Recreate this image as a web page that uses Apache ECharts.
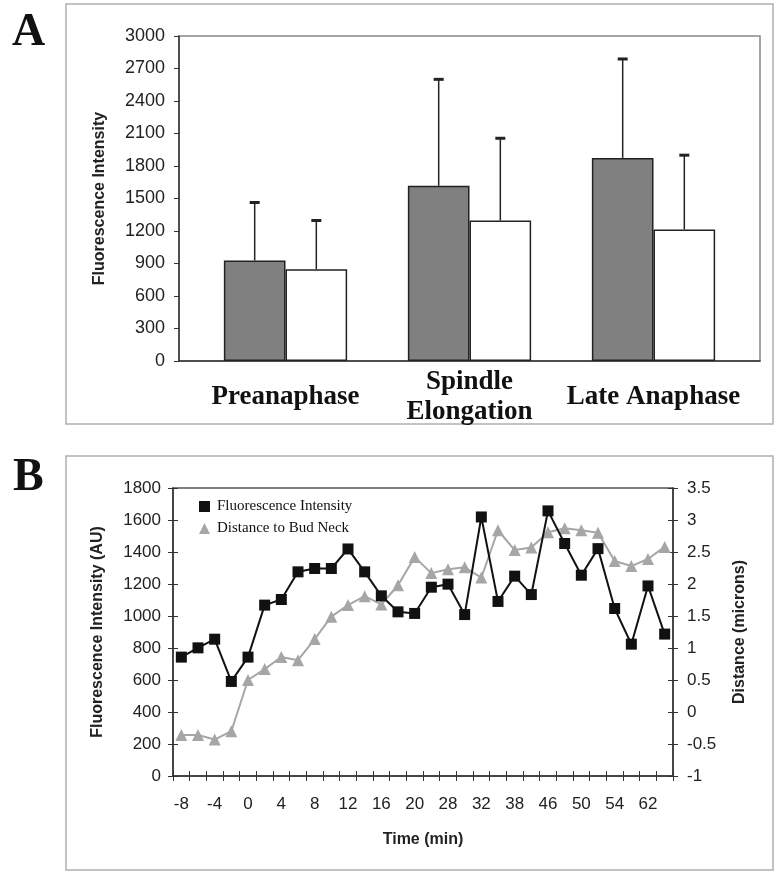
<!DOCTYPE html>
<html>
<head>
<meta charset="utf-8">
<script src="https://cdn.jsdelivr.net/npm/echarts@6/dist/echarts.min.js"></script>
<style>
html,body{margin:0;padding:0;background:#fff;}
#chart{width:776px;height:874px;}
</style>
</head>
<body>
<div id="chart"></div>
<script>
// ---------- Panel A data ----------
const aCategories = ['Preanaphase', 'Spindle\nElongation', 'Late Anaphase'];
const aGreyMean = [928, 1617, 1875];
const aGreySD = [535, 983, 913];
const aWhiteMean = [848, 1297, 1214];
const aWhiteSD = [449, 759, 686];
const aYTicks = { min: 0, max: 3000, interval: 300 };

// ---------- Panel B data ----------
const bTime = ['-8','-6','-4','-2','0','2','4','6','8','10','12','14','16','18','20','24','28','30','32','35','38','42','46','48','50','52','54','58','62','66'];
const bFluor = [743, 801, 855, 591, 743, 1068, 1103, 1276, 1297, 1297, 1419, 1276, 1126, 1026, 1016, 1180, 1199, 1009, 1619, 1091, 1249, 1134, 1657, 1453, 1255, 1421, 1047, 824, 1188, 887];
const bDist = [-0.36, -0.36, -0.43, -0.3, 0.5, 0.67, 0.86, 0.81, 1.14, 1.49, 1.67, 1.81, 1.68, 1.98, 2.42, 2.17, 2.23, 2.26, 2.1, 2.84, 2.53, 2.57, 2.81, 2.87, 2.84, 2.8, 2.36, 2.28, 2.39, 2.58];
const bLeftTicks = { min: 0, max: 1800, interval: 200 };
const bRightTicks = { min: -1, max: 3.5, interval: 0.5 };

const SANS = 'Liberation Sans, Arial, sans-serif';
const SERIF = 'Liberation Serif, Times New Roman, serif';
const TXT = '#222';
const plain = v => String(v);

const chart = echarts.init(document.getElementById('chart'), null, { renderer: 'canvas' });

function errRender(offsetFrac) {
  return function (params, api) {
    const x = api.value(0), m = api.value(1), sd = api.value(2);
    const base = api.coord([x, m]);
    const top = api.coord([x, m + sd]);
    const band = api.size([1, 0])[0];
    const cx = base[0] + offsetFrac * band;
    return {
      type: 'group',
      children: [
        { type: 'line', shape: { x1: cx, y1: base[1], x2: cx, y2: top[1] }, style: { stroke: '#222', lineWidth: 1.5 } },
        { type: 'line', shape: { x1: cx - 5, y1: top[1], x2: cx + 5, y2: top[1] }, style: { stroke: '#222', lineWidth: 3 } }
      ]
    };
  };
}

const BAR_GAP_FRAC = 0.33;
const barOffset = (1 - BAR_GAP_FRAC) / 4;

const option = {
  animation: false,
  backgroundColor: '#fff',
  graphic: [
    { type: 'rect', shape: { x: 66, y: 4, width: 707, height: 420 }, style: { fill: 'none', stroke: '#b0b0b0', lineWidth: 1.5 }, z: -10 },
    { type: 'rect', shape: { x: 66, y: 456, width: 707, height: 414 }, style: { fill: 'none', stroke: '#b0b0b0', lineWidth: 1.5 }, z: -10 },
    { type: 'text', left: 12, top: 10, style: { text: 'A', font: 'bold 46px ' + SERIF, fill: '#111' } },
    { type: 'text', left: 13, top: 455, style: { text: 'B', font: 'bold 46px ' + SERIF, fill: '#111' } }
  ],
  grid: [
    { left: 179, top: 36, width: 581, height: 325, show: true, borderColor: '#888', borderWidth: 1.5, backgroundColor: 'transparent' },
    { left: 193.5, top: 36, width: 552, height: 325 },
    { left: 173, top: 488, width: 500, height: 288, show: true, borderColor: '#555', borderWidth: 1.5, backgroundColor: 'transparent' }
  ],
  xAxis: [
    { gridIndex: 0, type: 'value', min: 0, max: 1, axisLabel: { show: false }, axisTick: { show: false }, splitLine: { show: false },
      axisLine: { onZero: false, lineStyle: { color: '#333', width: 1.5 } } },
    { gridIndex: 1, type: 'category', data: aCategories, axisLine: { show: false, onZero: false }, axisTick: { show: false },
      axisLabel: { interval: 0, margin: 36, verticalAlign: 'middle', lineHeight: 30, fontFamily: SERIF, fontWeight: 'bold', fontSize: 27, color: '#111' } },
    { gridIndex: 2, type: 'category', data: bTime, boundaryGap: true, position: 'bottom',
      axisLine: { onZero: false, lineStyle: { color: '#333', width: 1.5 } },
      axisTick: { show: true, interval: 0, length: 5, lineStyle: { color: '#333' } },
      axisLabel: { interval: 1, margin: 20, fontFamily: SANS, fontSize: 17, color: TXT },
      name: 'Time (min)', nameLocation: 'middle', nameGap: 56,
      nameTextStyle: { fontFamily: SANS, fontWeight: 'bold', fontSize: 16, color: TXT } },
    { gridIndex: 2, type: 'category', data: bTime, boundaryGap: true, position: 'bottom', offset: 0,
      axisLine: { show: false, onZero: false }, axisLabel: { show: false },
      axisTick: { show: true, inside: true, interval: 0, length: 5, lineStyle: { color: '#333' } } }
  ],
  yAxis: [
    { gridIndex: 0, type: 'value', min: aYTicks.min, max: aYTicks.max, interval: aYTicks.interval,
      axisLine: { show: true, onZero: false, lineStyle: { color: '#333', width: 1.5 } },
      axisTick: { show: true, length: 5, lineStyle: { color: '#333' } },
      splitLine: { show: false },
      axisLabel: { margin: 14, fontFamily: SANS, fontSize: 18, color: TXT, formatter: plain },
      name: 'Fluorescence Intensity', nameLocation: 'middle', nameGap: 71,
      nameTextStyle: { fontFamily: SANS, fontWeight: 'bold', fontSize: 16, color: TXT } },
    { gridIndex: 1, type: 'value', min: aYTicks.min, max: aYTicks.max, show: false, splitLine: { show: false } },
    { gridIndex: 2, type: 'value', position: 'left', min: bLeftTicks.min, max: bLeftTicks.max, interval: bLeftTicks.interval,
      axisLine: { show: true, onZero: false, lineStyle: { color: '#333', width: 1.5 } },
      axisTick: { show: true, length: 5, lineStyle: { color: '#333' } },
      splitLine: { show: false },
      axisLabel: { margin: 12, fontFamily: SANS, fontSize: 17, color: TXT, formatter: plain },
      name: 'Fluorescence Intensity (AU)', nameLocation: 'middle', nameGap: 67,
      nameTextStyle: { fontFamily: SANS, fontWeight: 'bold', fontSize: 16, color: TXT } },
    { gridIndex: 2, type: 'value', position: 'right', min: bRightTicks.min, max: bRightTicks.max, interval: bRightTicks.interval,
      axisLine: { show: true, onZero: false, lineStyle: { color: '#333', width: 1.5 } },
      axisTick: { show: true, length: 5, lineStyle: { color: '#333' } },
      splitLine: { show: false },
      axisLabel: { margin: 14, fontFamily: SANS, fontSize: 17, color: TXT, formatter: plain },
      name: 'Distance (microns)', nameLocation: 'middle', nameGap: 59,
      nameTextStyle: { fontFamily: SANS, fontWeight: 'bold', fontSize: 16, color: TXT } },
    { gridIndex: 2, type: 'value', position: 'left', offset: 0, min: bLeftTicks.min, max: bLeftTicks.max, interval: bLeftTicks.interval,
      axisLine: { show: false, onZero: false }, axisLabel: { show: false }, splitLine: { show: false },
      axisTick: { show: true, inside: true, length: 5, lineStyle: { color: '#333' } } },
    { gridIndex: 2, type: 'value', position: 'right', offset: 0, min: bRightTicks.min, max: bRightTicks.max, interval: bRightTicks.interval,
      axisLine: { show: false, onZero: false }, axisLabel: { show: false }, splitLine: { show: false },
      axisTick: { show: true, inside: true, length: 5, lineStyle: { color: '#333' } } }
  ],
  legend: {
    data: [
      { name: 'Fluorescence Intensity', icon: 'rect' },
      { name: 'Distance to Bud Neck', icon: 'triangle' }
    ],
    orient: 'vertical', left: 194, top: 494, itemWidth: 11, itemHeight: 11, itemGap: 7,
    textStyle: { fontFamily: SERIF, fontSize: 15, color: '#111', padding: [0, 0, 0, 2] }
  },
  series: [
    { name: 'Group 1', type: 'bar', xAxisIndex: 1, yAxisIndex: 1, data: aGreyMean,
      barCategoryGap: (BAR_GAP_FRAC * 100) + '%', barGap: '0%',
      itemStyle: { color: '#808080', borderColor: '#222', borderWidth: 1.5 } },
    { name: 'Group 2', type: 'bar', xAxisIndex: 1, yAxisIndex: 1, data: aWhiteMean,
      barCategoryGap: (BAR_GAP_FRAC * 100) + '%', barGap: '0%',
      itemStyle: { color: '#ffffff', borderColor: '#222', borderWidth: 1.5 } },
    { name: 'Group 1 SD', type: 'custom', xAxisIndex: 1, yAxisIndex: 1, z: 5,
      data: aGreyMean.map((m, i) => [i, m, aGreySD[i]]), renderItem: errRender(-barOffset) },
    { name: 'Group 2 SD', type: 'custom', xAxisIndex: 1, yAxisIndex: 1, z: 5,
      data: aWhiteMean.map((m, i) => [i, m, aWhiteSD[i]]), renderItem: errRender(barOffset) },
    { name: 'Distance to Bud Neck', type: 'line', xAxisIndex: 2, yAxisIndex: 3, data: bDist,
      symbol: 'triangle', symbolSize: 12, showAllSymbol: true,
      lineStyle: { color: '#a6a6a6', width: 2 }, itemStyle: { color: '#a6a6a6' }, z: 3 },
    { name: 'Fluorescence Intensity', type: 'line', xAxisIndex: 2, yAxisIndex: 2, data: bFluor,
      symbol: 'rect', symbolSize: 11, showAllSymbol: true,
      lineStyle: { color: '#111', width: 2 }, itemStyle: { color: '#111' }, z: 4 }
  ]
};
chart.setOption(option);
</script>
</body>
</html>
